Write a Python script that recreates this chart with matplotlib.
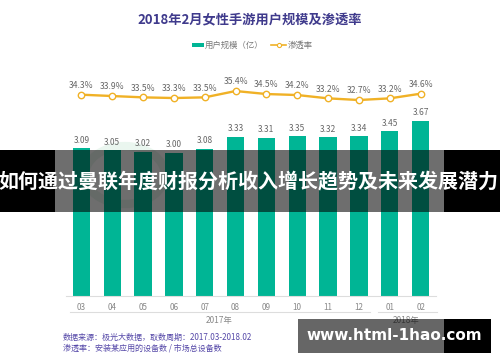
import matplotlib
matplotlib.use("Agg")
import matplotlib.pyplot as plt
from matplotlib.patches import Rectangle, Circle

plt.rcParams['font.family'] = ['Noto Sans CJK SC', 'DejaVu Sans']

# data
months = ['03', '04', '05', '06', '07', '08', '09', '10', '11', '12', '01', '02']
users = [3.09, 3.05, 3.02, 3.00, 3.08, 3.33, 3.31, 3.35, 3.32, 3.34, 3.45, 3.67]
rate = [34.3, 33.9, 33.5, 33.3, 33.5, 35.4, 34.5, 34.2, 33.2, 32.7, 33.2, 34.6]
years = ['2017年', '2018年']
title = '2018年2月女性手游用户规模及渗透率'
legend_labels = ['用户规模（亿）', '渗透率']
source_lines = ['数据来源：极光大数据，取数周期：2017.03-2018.02',
                '渗透率：安装某应用的设备数 / 市场总设备数']
banner = '如何通过曼联年度财报分析收入增长趋势及未来发展潜力'
site = 'www.html-1hao.com'

W, H = 500, 362
GREEN = '#00b595'
ORANGE = '#f0b126'
PURPLE = '#3f3a8c'


def fx(px):
    return px / W


def fy(py):
    return 1 - py / H


def box(x0, y0, x1, y1):
    # pixel box (top-left origin) -> figure rect
    return [fx(x0), fy(y1), (x1 - x0) / W, (y1 - y0) / H]


fig = plt.figure(figsize=(W / 100, H / 100), dpi=100)
fig.patch.set_facecolor('white')

# faint logo ring behind bars
fig.patches.append(Circle((fx(125), fy(175)), 40 / W, transform=fig.transFigure,
                          fill=False, lw=6, ec='#eaf6ef', zorder=-1))

# bars
ax = fig.add_axes(box(66, 100, 436, 296))
ax.patch.set_alpha(0)
x = list(range(len(months)))
ax.bar(x, users, width=0.56, color=GREEN, zorder=2)
for i, v in enumerate(users):
    ax.text(i, v + 0.07, f'{v:.2f}', ha='center', va='bottom', fontsize=6, color='#666666')
ax.set_xlim(-0.5, len(months) - 0.5)
ax.set_ylim(0, 4.1)
ax.set_yticks([])
ax.set_xticks(x)
ax.set_xticklabels(months, fontsize=5.8, color='#888888')
ax.tick_params(axis='x', length=0, pad=5)
for s in ['top', 'right', 'left']:
    ax.spines[s].set_visible(False)
ax.spines['bottom'].set_color('#dddddd')
ax.spines['bottom'].set_linewidth(0.8)

# penetration line
lax = fig.add_axes(box(66, 60, 436, 120))
lax.patch.set_alpha(0)
lax.plot(x, rate, color=ORANGE, lw=1.7, marker='o', ms=4.6, mfc='white', mec=ORANGE, mew=1.0)
for i, v in enumerate(rate):
    lax.text(i, v + 1.4, f'{v}%', ha='center', va='bottom', fontsize=6.2, color='#666666')
lax.set_xlim(-0.5, len(months) - 0.5)
lax.set_ylim(26.7, 44.72)
lax.axis('off')

# year groups
fig.add_artist(plt.Line2D([fx(70), fx(370)], [fy(312), fy(312)], color='#dddddd', lw=0.8))
fig.add_artist(plt.Line2D([fx(378), fx(437)], [fy(312), fy(312)], color='#dddddd', lw=0.8))
fig.text(fx(219), fy(320), years[0], ha='center', va='center', fontsize=6, color='#888888')
fig.text(fx(406), fy(320), years[1], ha='center', va='center', fontsize=6, color='#888888')

# title and legend
fig.text(0.5, fy(20), title, ha='center', va='center', fontsize=9.5, fontweight='bold', color=PURPLE)
fig.patches.append(Rectangle((fx(192), fy(46.5)), 12 / W, 3 / H, transform=fig.transFigure,
                             color=GREEN, lw=0))
fig.text(fx(205), fy(45), legend_labels[0], ha='left', va='center', fontsize=6, color='#777777')
fig.add_artist(plt.Line2D([fx(271), fx(286)], [fy(45), fy(45)], color=ORANGE, lw=1.2))
fig.add_artist(plt.Line2D([fx(278.5)], [fy(45)], marker='o', ms=3, mfc='white', mec=ORANGE, mew=0.8))
fig.text(fx(288), fy(45), legend_labels[1], ha='left', va='center', fontsize=6, color='#777777')

# source note
fig.text(fx(63), fy(337), source_lines[0], ha='left', va='center', fontsize=5.8, color='#5548a8')
fig.text(fx(63), fy(348), source_lines[1], ha='left', va='center', fontsize=5.8, color='#5548a8')

# banner overlay
fig.patches.append(Rectangle((0, fy(212)), fx(55), 62 / H, transform=fig.transFigure,
                             color='black', lw=0, zorder=10))
fig.patches.append(Rectangle((fx(444), fy(212)), fx(56), 62 / H, transform=fig.transFigure,
                             color='black', lw=0, zorder=10))
fig.patches.append(Rectangle((fx(55), fy(212)), fx(389), 62 / H, transform=fig.transFigure,
                             color='black', alpha=0.57, lw=0, zorder=10))
fig.text(0.497, fy(181), banner, ha='center', va='center', fontsize=14.4, fontweight='bold',
         color='white', zorder=11)

# site tag
fig.patches.append(Rectangle((fx(298), fy(353)), fx(146), 34 / H, transform=fig.transFigure,
                             color='black', alpha=0.6, lw=0, zorder=10))
fig.patches.append(Rectangle((fx(444), fy(353)), fx(47), 34 / H, transform=fig.transFigure,
                             color='black', lw=0, zorder=10))
fig.text(fx(394), fy(336), site, ha='center', va='center', fontsize=11, fontweight='bold',
         color='white', family=['DejaVu Sans'], zorder=11)

fig.savefig('out.png', dpi=100)
